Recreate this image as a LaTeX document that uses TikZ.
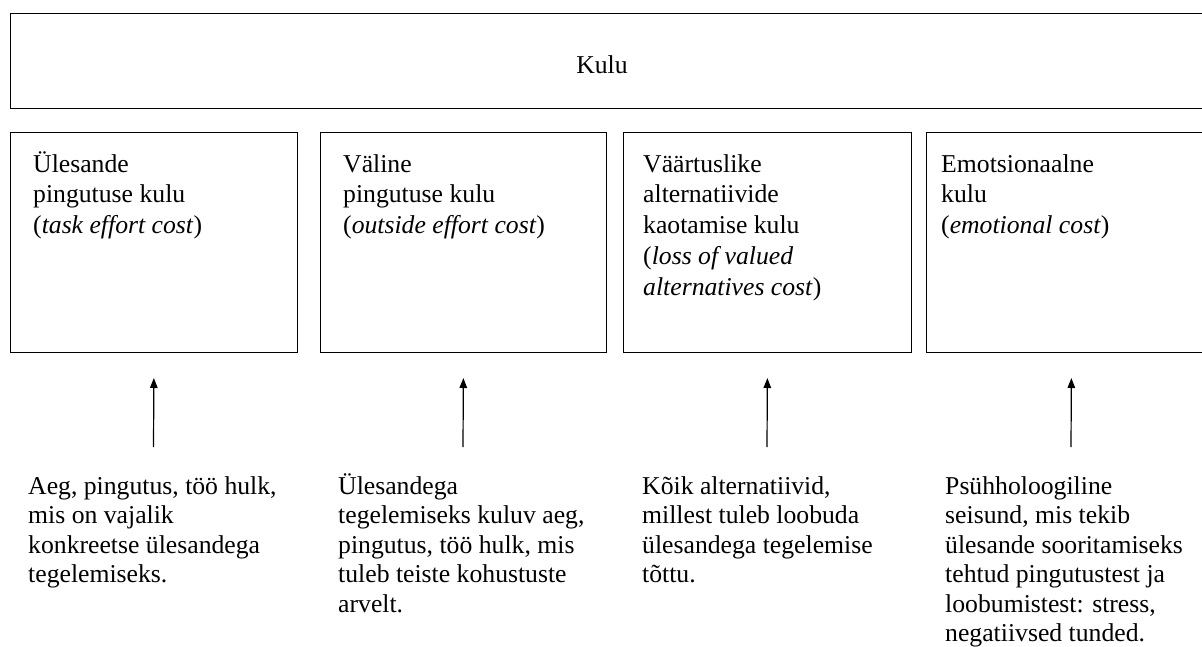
\documentclass[tikz,border=0pt]{standalone}
\usepackage{fontspec}
\setmainfont{Liberation Serif}
\usetikzlibrary{arrows.meta}
\newcommand{\boxlines}[1]{\parbox[t]{280pt}{\raggedright #1}}
\tikzset{
  framebox/.style={draw=black, line width=1pt, rectangle, inner sep=0pt, anchor=north west},
  topframe/.style={framebox, line width=1.3pt},
  boxtext/.style={inner sep=0pt, anchor=base west, font=\fontsize{25.7pt}{30.8pt}\selectfont},
  desctext/.style={inner sep=0pt, anchor=base west, font=\fontsize{25.7pt}{29.5pt}\selectfont},
  uparrow/.style={draw=black, line width=1.2pt, -{Triangle[length=10pt,width=7.5pt]}, shorten >=25pt}
}
\begin{document}
\begin{tikzpicture}[x=1pt,y=-1pt]
\useasboundingbox (0,0) rectangle (1202,646);
\clip (0,0) rectangle (1202,646);
% top box
\node[topframe, minimum width=1206pt, minimum height=95pt] (top) at (10,13) {};
\node[inner sep=0pt, anchor=base, font=\fontsize{25.7pt}{30pt}\selectfont] (kulu) at (602,73) {Kulu};
% category boxes
\node[framebox, minimum width=287pt, minimum height=220pt] (b1) at (10,132) {};
\node[framebox, minimum width=286pt, minimum height=220pt] (b2) at (320,132) {};
\node[framebox, minimum width=288pt, minimum height=220pt] (b3) at (623,132) {};
\node[framebox, minimum width=290pt, minimum height=220pt] (b4) at (926,132) {};
% box texts
\node[boxtext] (t1) at (33,172) {\boxlines{Ülesande\\pingutuse kulu\\(\textit{task effort cost})}};
\node[boxtext] (t2) at (343,172) {\boxlines{Väline\\pingutuse kulu\\(\textit{outside effort cost})}};
\node[boxtext] (t3) at (643,172) {\boxlines{Väärtuslike\\alternatiivide\\kaotamise kulu\\(\textit{loss of valued}\\\textit{alternatives cost})}};
\node[boxtext] (t4) at (941,172) {\boxlines{Emotsionaalne\\kulu\\(\textit{emotional cost})}};
% descriptions
\node[desctext] (d1) at (28,494) {\boxlines{Aeg, pingutus, töö hulk,\\mis on vajalik\\konkreetse ülesandega\\tegelemiseks.}};
\node[desctext] (d2) at (338,494) {\boxlines{Ülesandega\\tegelemiseks kuluv aeg,\\pingutus, töö hulk, mis\\tuleb teiste kohustuste\\arvelt.}};
\node[desctext] (d3) at (642,494) {\boxlines{Kõik alternatiivid,\\millest tuleb loobuda\\ülesandega tegelemise\\tõttu.}};
\node[desctext] (d4) at (945,494) {\boxlines{Psühholoogiline\\seisund, mis tekib\\ülesande sooritamiseks\\tehtud pingutustest ja\\loobumistest: stress,\\negatiivsed tunded.}};
% arrows
\coordinate (a1) at (153.5,447);
\coordinate (a2) at (463,447);
\coordinate (a3) at (767,447);
\coordinate (a4) at (1071,447);
\draw[uparrow] (a1) -- (b1.south);
\draw[uparrow] (a2) -- (b2.south);
\draw[uparrow] (a3) -- (b3.south);
\draw[uparrow] (a4) -- (b4.south);
\end{tikzpicture}
\end{document}
